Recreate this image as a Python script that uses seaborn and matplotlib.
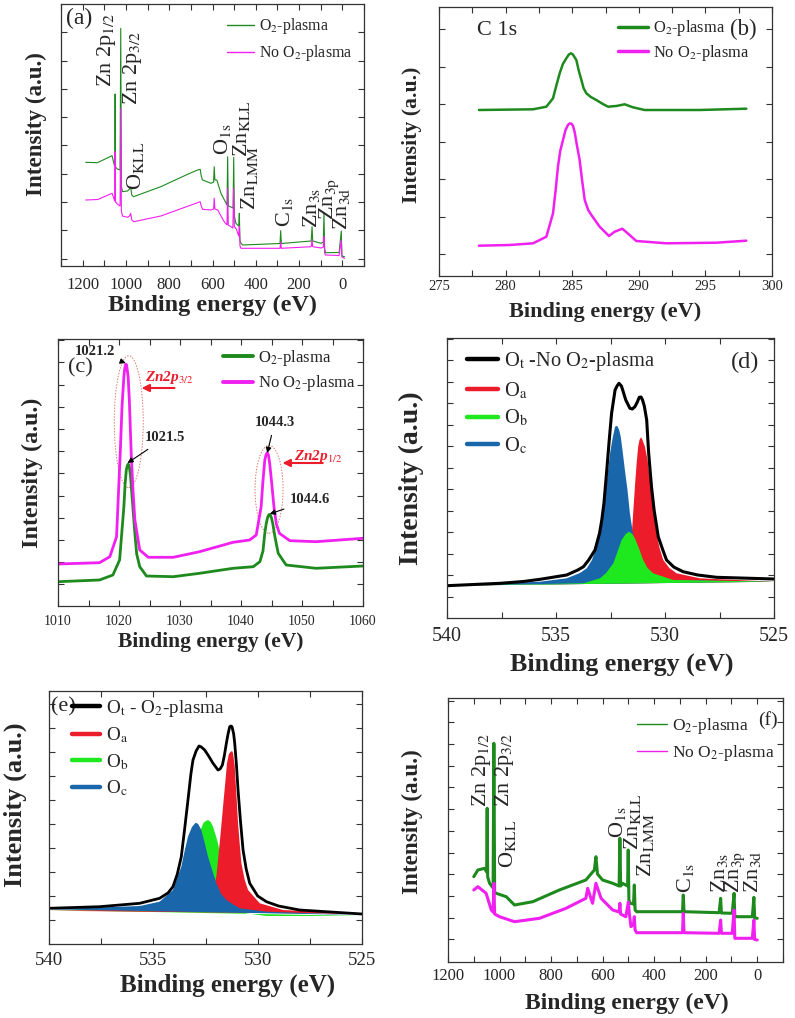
import numpy as np
import matplotlib
matplotlib.use("Agg")
import matplotlib.pyplot as plt
import seaborn as sns
from matplotlib.ticker import MultipleLocator, FormatStrFormatter
from matplotlib.patches import Ellipse
from matplotlib.lines import Line2D

# ------------------------------
# Data (intensities in arbitrary units)
# ------------------------------
# (a) survey spectrum
a_green_ev = [1186, 1132, 1064, 1056, 1052, 1050, 1048, 1040, 1027, 1024, 1021, 1016, 993, 983, 978, 973,
              965, 839, 715, 669, 657, 652, 646, 607, 595, 592, 589, 580, 561, 533, 530, 527, 518, 505,
              502, 499, 492, 479, 476, 473, 468, 461, 288, 285, 282, 144, 140, 137, 98, 88, 85, 82, 78,
              15, 5, 2, -10]
a_green_int = [103.7, 103.3, 110.3, 102.7, 100, 172, 99, 97, 96, 237.7, 80, 74.3, 75, 77, 79, 71,
               69.3, 79.3, 91.7, 96, 96.7, 90, 86, 82.7, 84, 99.3, 86, 86, 72.7, 61, 109.3, 60, 59.3, 58,
               108.7, 50, 42.7, 40, 52.7, 25, 22.7, 21, 22.5, 35.3, 22.5, 25, 39.3, 25, 22.7, 24, 53.3, 18, 13.3,
               13.5, 35, 10, 9.3]
a_mag_ev = [1186, 1130, 1064, 1056, 1052, 1050, 1048, 1040, 1027, 1024, 1021, 1016, 993, 983, 978, 973,
            963, 839, 669, 657, 652, 646, 607, 595, 592, 589, 576, 546, 533, 530, 527, 506, 502, 499,
            490, 479, 476, 473, 468, 288, 285, 282, 144, 140, 137, 98, 88, 85, 82, 78, 15, 5, 2, -10]
a_mag_int = [66, 66.5, 72.7, 67.7, 65, 114.3, 64, 62, 60, 157.7, 55, 50, 48.7, 50, 52.7, 46,
             44.3, 50, 63.3, 64.3, 60, 56.7, 56, 57, 67.7, 57, 56, 44.3, 41, 77.7, 41, 38, 78, 39.3,
             37, 30, 40, 20, 17.7, 17.7, 24, 17.7, 19.3, 26, 19.3, 18, 19, 29.3, 13, 11, 10.5, 26, 9, 7.7]

# (b) C 1s
b_green_ev = [278.0, 282.06, 283.06, 283.56, 283.8, 284.06, 284.3, 284.56, 284.75, 284.9, 285.05, 285.31,
              285.5, 285.69, 285.85, 286.06, 286.4, 286.81, 287.3, 287.69, 288.31, 288.94, 289.56, 290.44,
              294.57, 298.07]
b_green_int = [166, 166.7, 169.3, 177.7, 190, 202.7, 212, 217.7, 221.5, 222.7, 221.5, 216,
               205, 196, 188, 182.7, 179, 176, 172, 169.3, 170, 171.7, 168.7, 166,
               166, 167.3]
b_mag_ev = [278.0, 280.3, 282.06, 283.06, 283.56, 283.75, 283.93, 284.1, 284.31, 284.5, 284.68, 284.8,
            284.92, 285.05, 285.18, 285.35, 285.56, 285.75, 285.94, 286.2, 286.44, 287.06, 287.76, 288.19,
            288.76, 289.31, 289.81, 292.07, 295.82, 298.07]
b_mag_int = [30.3, 31, 32.7, 39.3, 62.7, 85, 109.3, 125, 136, 146, 151, 152.5,
             152.5, 150.5, 144.3, 131, 116, 95, 76, 66, 61, 49.3, 40, 44.3,
             47.3, 41, 35, 32.7, 33.3, 35.3]

# (c) Zn 2p
c_mag_ev = [1010, 1016.8, 1018.5, 1019.6, 1020.2, 1020.5, 1020.8, 1020.95, 1021.1, 1021.25, 1021.5, 1021.7,
            1022.0, 1022.3, 1022.6, 1023.4, 1024.8, 1028.9, 1033.2, 1038.7, 1041.4, 1042.5, 1043.3, 1043.6,
            1043.9, 1044.1, 1044.3, 1044.5, 1044.7, 1045.0, 1045.4, 1045.8, 1046.3, 1048.0, 1052.3, 1060]
c_mag_int = [42, 43.3, 49.3, 69.3, 152.7, 200, 229.3, 238, 242, 241, 229.3, 205,
             152.7, 115, 86, 56, 48.7, 48.7, 54.3, 63.7, 66, 71, 99.3, 125,
             146, 151, 153.3, 151, 142.7, 125, 99.3, 82, 72.7, 65.3, 64.3, 67.7]
c_green_ev = [1010, 1016.8, 1019.0, 1020.1, 1020.8, 1021.0, 1021.2, 1021.35, 1021.5, 1021.7, 1021.9, 1022.2,
              1022.6, 1022.9, 1023.4, 1024.5, 1028.9, 1033.2, 1038.7, 1042.0, 1043.1, 1043.6, 1043.9, 1044.15,
              1044.4, 1044.6, 1044.8, 1045.0, 1045.2, 1045.6, 1046.1, 1047.4, 1052.3, 1060]
c_green_int = [24.3, 26, 31, 46, 99.3, 122, 136, 140, 142, 139, 129.3, 105,
               72.7, 52, 39.3, 30, 29.3, 32.7, 37.7, 39.3, 44.3, 55, 72.7, 83,
               89.3, 91.5, 91, 88, 82.7, 68, 52.7, 41, 37.7, 40]
c_peak_labels = ["1021.2", "1021.5", "1044.3", "1044.6"]

# (d) O 1s, no O2-plasma
d_ot_ev = [540, 537.56, 536.5, 535.73, 534.51, 534.0, 533.74, 533.5, 533.21, 533.0, 532.9, 532.8, 532.67,
           532.55, 532.45, 532.29, 532.2, 532.11, 532.0, 531.94, 531.8, 531.61, 531.5, 531.38, 531.27,
           531.18, 531.1, 531.03, 530.95, 530.84, 530.75, 530.62, 530.5, 530.31, 530.1, 529.93, 529.6,
           529.17, 528.5, 527.64, 525]
d_ot_int = [32.3, 34.7, 36.5, 38.7, 43, 48, 51.3, 58, 68, 85, 98, 115, 148,
            180, 204.7, 228, 232, 234.7, 232, 228, 218, 209.7, 209, 211.3, 216,
            220.7, 221, 218, 212, 198, 165, 131.3, 108, 81.3, 68, 58, 51,
            46.3, 43, 40.7, 39]
d_oc_ev = [540, 535.73, 534.51, 533.9, 533.59, 533.35, 533.13, 532.95, 532.83, 532.65, 532.52, 532.4,
           532.29, 532.22, 532.19, 532.1, 532.03, 531.95, 531.84, 531.72, 531.61, 531.45, 531.30, 531.1,
           530.84, 529.93, 525]
d_oc_int = [32.3, 36.3, 39.7, 45, 49.7, 58, 71.3, 95, 114.7, 140, 164.7, 180,
            191.3, 192, 192, 188, 181.3, 168, 148, 128, 104.7, 82, 64.7, 54,
            44.7, 38, 36.3]
d_ob_ev = [540, 533.74, 532.98, 532.7, 532.37, 532.15, 531.99, 531.8, 531.65, 531.5, 531.38, 531.2,
           531.0, 530.8, 530.54, 529.62, 525]
d_ob_int = [32.3, 34.7, 39.7, 45, 54.7, 68, 78, 84, 86.3, 84, 79.7, 70,
            58, 50, 44.7, 38, 36.3]
d_oa_ev = [540, 532.98, 531.76, 531.65, 531.53, 531.45, 531.38, 531.3, 531.23, 531.17, 531.10, 531.05,
           530.92, 530.8, 530.69, 530.55, 530.39, 530.25, 530.08, 529.8, 529.47, 528.40, 525]
d_oa_int = [32.3, 34.7, 41.3, 60, 81.3, 108, 131.3, 155, 171.3, 178, 180.7, 179,
            171.3, 158, 138, 112, 84.7, 70, 58, 50, 44.7, 39.7, 36.3]

# (e) O 1s, O2-plasma
e_ot_ev = [540, 537.57, 535.65, 534.70, 534.3, 534.06, 533.85, 533.66, 533.5, 533.34, 533.2, 533.10,
           532.95, 532.81, 532.7, 532.54, 532.35, 532.14, 531.90, 531.8, 531.69, 531.6, 531.50, 531.42,
           531.34, 531.28, 531.23, 531.15, 531.10, 531.02, 530.94, 530.82, 530.70, 530.55, 530.38, 530.0,
           529.58, 529.0, 527.99, 525]
e_ot_int = [35.7, 37.3, 40.7, 45.7, 51, 57.3, 70, 87.3, 115, 144, 170, 184,
            193, 198, 197, 194, 188, 180.7, 174, 175, 179, 188, 200.7, 210,
            217.3, 218, 217.3, 210, 200.7, 180, 154, 122, 94, 75, 60.7, 48,
            42.3, 38, 34, 30]
e_oc_ev = [540, 535.65, 534.70, 534.06, 533.66, 533.5, 533.34, 533.15, 532.97, 532.85, 532.70, 532.55,
           532.38, 532.15, 531.98, 531.75, 531.50, 531.2, 530.86, 529.58, 525]
e_oc_int = [34.7, 38, 42.3, 54, 77.3, 93, 107.3, 117, 121.3, 120, 114, 102,
            87.3, 72, 60.7, 50, 44, 40, 35.7, 32.3, 29]
e_ob_ev = [540, 533.74, 533.10, 532.95, 532.78, 532.7, 532.59, 532.48, 532.38, 532.25, 532.14, 532.0,
           531.90, 531.75, 531.58, 531.4, 531.18, 530.54, 529.58, 525]
e_ob_int = [34, 35.7, 60.7, 85, 107.3, 116, 121.3, 123, 124, 122, 117.3, 108,
            100.7, 85, 67.3, 55, 44, 30.7, 28, 28]
e_oa_ev = [540, 533.10, 532.30, 531.98, 531.79, 531.63, 531.55, 531.47, 531.38, 531.29, 531.22, 531.18,
           531.1, 531.05, 530.94, 530.86, 530.78, 530.62, 530.46, 529.90, 528.79, 525]
e_oa_int = [33.3, 34.7, 40.7, 67.3, 107.3, 144, 162, 180.7, 190, 192.3, 193, 190.7,
            178, 160.7, 120.7, 100, 80.7, 64, 54, 40.7, 34, 30]

# (f) survey spectrum
f_green_ev = [1100, 1084, 1058, 1050, 1048, 1046, 1038.7, 1025, 1022, 1019, 1013, 974, 942, 871, 768, 665,
              632, 626, 620, 600, 561, 536, 533, 530, 523, 503, 500.6, 498, 493, 480, 477, 474, 468,
              290, 287, 284, 148, 142, 139, 97, 90, 87, 84, 19, 13, 10, 0]
f_green_int = [85.3, 92, 93.7, 90, 153.7, 85, 78.7, 74, 218.7, 70, 68.7, 65.3, 57, 60.3, 72, 82,
               92, 105.3, 88, 82, 78.7, 76, 123.7, 76, 78.7, 76, 112, 62, 58.7, 58, 77, 52, 50.3,
               50.3, 67, 50.3, 49.3, 63.7, 49, 48.7, 68.7, 45.3, 45.3, 45.3, 64.7, 44, 43.7]
f_mag_ev = [1100, 1084, 1052, 1032, 1025, 1022, 1019, 1000, 942, 845, 742, 665, 658, 639, 626, 606,
            561, 536, 533, 530, 510, 500, 497, 490, 480, 477, 474, 468, 290, 287, 284, 148, 142, 139,
            97, 90, 87, 19, 13, 10, 0]
f_mag_int = [72, 75.3, 68.7, 52, 50, 78.7, 48, 45.3, 40.3, 43.7, 53.7, 63.7, 73.7, 58.7, 78.7, 63.7,
             52, 50, 58.7, 48, 45.3, 60, 50, 35.3, 38, 45.3, 32, 29.3, 29.3, 48.7, 29.3, 28.7, 42, 28.7,
             28.7, 52, 23.7, 23.7, 42, 22.5, 22]

survey_labels = ["Zn 2p$_{1/2}$", "Zn 2p$_{3/2}$", r"O$_{\mathrm{KLL}}$", r"O$_{\mathrm{1s}}$",
                 r"Zn$_{\mathrm{KLL}}$", r"Zn$_{\mathrm{LMM}}$", r"C$_{\mathrm{1s}}$",
                 r"Zn$_{\mathrm{3s}}$", r"Zn$_{\mathrm{3p}}$", r"Zn$_{\mathrm{3d}}$"]

# ------------------------------
# Style
# ------------------------------
sns.set_style("ticks")
plt.rcParams['font.family'] = ['Liberation Serif', 'DejaVu Serif']
plt.rcParams['mathtext.fontset'] = 'stix'

GREEN = '#1e8a1e'
MAGENTA = '#f020f0'
RED = '#ec1c2a'
LIME = '#1ee81e'
BLUE = '#1a66aa'
W, H = 795, 1018


def make_axes(fig, left, right, top, bottom):
    return fig.add_axes([left / W, 1 - bottom / H, (right - left) / W, (bottom - top) / H])


def setup(ax, xlim, ylim, xmaj, xmin, y0, ystep, lsize, pad):
    ax.set_xlim(*xlim)
    ax.set_ylim(*ylim)
    ax.xaxis.set_major_locator(MultipleLocator(xmaj))
    ax.xaxis.set_minor_locator(MultipleLocator(xmin))
    ax.xaxis.set_major_formatter(FormatStrFormatter('%d'))
    ax.set_yticks(np.arange(y0, ylim[1], ystep))
    ax.set_yticklabels([])
    ax.tick_params(which='both', direction='in', top=True, right=True, width=0.8, color='#333333')
    ax.tick_params(which='major', length=4, labelsize=lsize, pad=pad)
    ax.tick_params(which='minor', length=4)
    for s in ax.spines.values():
        s.set_linewidth(0.9)
        s.set_color('#333333')


def labels(ax, xs, xpos, ys, ypos):
    ax.set_xlabel("Binding energy (eV)", fontsize=xs, fontweight='bold')
    ax.xaxis.set_label_coords(*xpos)
    ax.set_ylabel("Intensity (a.u.)", fontsize=ys, fontweight='bold')
    ax.yaxis.set_label_coords(*ypos)


def legend(ax, handles, texts, x, y, fs, hl, ls):
    ax.legend(handles, texts, loc='upper left', bbox_to_anchor=(x, y), frameon=False, fontsize=fs,
              handlelength=hl, handletextpad=0.3, labelspacing=ls, borderpad=0, borderaxespad=0)


def line(ax, x, y, color, lw):
    sns.lineplot(x=x, y=y, ax=ax, color=color, lw=lw, estimator=None, sort=False, legend=False)


fig = plt.figure(figsize=(W / 100, H / 100), dpi=100)

# ------------------------------
# (a) survey
# ------------------------------
ax = make_axes(fig, 61, 364, 4, 266)
line(ax, a_green_ev, a_green_int, GREEN, 0.8)
line(ax, a_mag_ev, a_mag_int, MAGENTA, 0.8)
setup(ax, (1300, -100), (0, 262), 200, 100, 7.3, 28.3, 12, 8)
labels(ax, 17.5, (0.5, -0.111), 16.6, (-0.046, 0.54))
legend(ax, [Line2D([], [], color=GREEN, lw=1), Line2D([], [], color=MAGENTA, lw=1)],
       ["O$_2$-plasma", "No O$_2$-plasma"], 0.548, 0.954, 11.4, 1.7, 0.46)
ax.text(0.061, 0.943, "(a)", transform=ax.transAxes, fontsize=17, ha='center', va='center')
a_pos = [(1089, 179), (971, 161), (955, 76), (553, 111), (468, 109), (431, 56), (269, 39),
         (144, 38), (61, 46), (5, 36)]
for txt, (px, py) in zip(survey_labels, a_pos):
    ax.text(px, py, txt, rotation=90, ha='center', va='bottom', fontsize=16)

# ------------------------------
# (b) C 1s
# ------------------------------
ax = make_axes(fig, 439, 772, 7, 276)
line(ax, b_green_ev, b_green_int, GREEN, 1.8)
line(ax, b_mag_ev, b_mag_int, MAGENTA, 1.8)
setup(ax, (275, 300), (0, 269), 5, 2.5, 22, 37.5, 10.5, 3)
labels(ax, 16, (0.5, -0.096), 15.7, (-0.051, 0.524))
legend(ax, [Line2D([], [], color=GREEN, lw=2.5), Line2D([], [], color=MAGENTA, lw=2.5)],
       ["O$_2$-plasma", "No O$_2$-plasma"], 0.538, 0.958, 11.8, 1.83, 0.29)
ax.text(0.913, 0.918, "(b)", transform=ax.transAxes, fontsize=16.5, ha='center', va='center')
ax.text(0.174, 0.914, "C 1s", transform=ax.transAxes, fontsize=16, ha='center', va='center')

# ------------------------------
# (c) Zn 2p
# ------------------------------
ax = make_axes(fig, 58, 363, 339, 606)
line(ax, c_green_ev, c_green_int, GREEN, 2.0)
line(ax, c_mag_ev, c_mag_int, MAGENTA, 2.0)
setup(ax, (1010, 1060), (0, 267), 10, 5, 21.7, 22.2, 10, 6.5)
labels(ax, 15.5, (0.5, -0.096), 17.3, (-0.049, 0.50))
legend(ax, [Line2D([], [], color=GREEN, lw=2.8), Line2D([], [], color=MAGENTA, lw=2.8)],
       ["O$_2$-plasma", "No O$_2$-plasma"], 0.541, 0.966, 12, 1.8, 0.32)
ax.text(0.072, 0.891, "(c)", transform=ax.transAxes, fontsize=16, ha='center', va='center')
c_text = [(1016.0, 254), (1027.5, 168), (1045.5, 183), (1051.3, 106)]
c_tip = [(1021.1, 243), (1021.4, 143), (1044.3, 153), (1044.7, 92)]
for txt, tp, tip in zip(c_peak_labels, c_text, c_tip):
    ax.annotate(txt, xy=tip, xytext=tp, ha='center', va='center', fontsize=10.5, fontweight='bold',
                arrowprops=dict(arrowstyle='-|>', color='k', lw=0.8, mutation_scale=8,
                                shrinkA=2, shrinkB=0))
ax.text(1028.3, 228, r"Zn2p$_{\mathit{3/2}}$", color=RED, fontsize=11, fontweight='bold',
        fontstyle='italic', ha='center', va='center')
ax.text(1052.7, 149, r"Zn2p$_{\mathit{1/2}}$", color=RED, fontsize=11, fontweight='bold',
        fontstyle='italic', ha='center', va='center')
ax.annotate('', xy=(1023.7, 218), xytext=(1029.1, 218),
            arrowprops=dict(arrowstyle='-|>', color=RED, lw=1.5, mutation_scale=11, shrinkA=0, shrinkB=0))
ax.annotate('', xy=(1046.8, 143), xytext=(1053.4, 143),
            arrowprops=dict(arrowstyle='-|>', color=RED, lw=1.5, mutation_scale=11, shrinkA=0, shrinkB=0))
ax.add_patch(Ellipse((1021.6, 184.3), 4.75, 132, fill=False, ec='#e07a70', lw=0.7, ls=(0, (1.5, 1.5))))
ax.add_patch(Ellipse((1044.6, 116.7), 4.6, 88, fill=False, ec='#e07a70', lw=0.7, ls=(0, (1.5, 1.5))))

# ------------------------------
# (d) O 1s no plasma
# ------------------------------
ax = make_axes(fig, 447, 774, 338, 618)
ax.fill(d_oa_ev, d_oa_int, color=RED, lw=0)
ax.fill(d_oc_ev, d_oc_int, color=BLUE, lw=0)
ax.fill(d_ob_ev, d_ob_int, color=LIME, lw=0)
line(ax, d_ot_ev, d_ot_int, 'black', 2.2)
setup(ax, (540, 525), (0, 280), 5, 2.5, 21.3, 21.5, 14.4, 6.5)
labels(ax, 18.7, (0.534, -0.125), 20, (-0.070, 0.50))
legend(ax, [Line2D([], [], color=c, lw=3.2) for c in ['black', RED, LIME, BLUE]],
       ["O$_\\mathrm{t}$ -No O$_2$-plasma", "O$_\\mathrm{a}$", "O$_\\mathrm{b}$", "O$_\\mathrm{c}$"],
       0.061, 0.957, 14.7, 1.5, 0.35)
ax.text(0.911, 0.911, "(d)", transform=ax.transAxes, fontsize=17.5, ha='center', va='center')

# ------------------------------
# (e) O 1s with plasma
# ------------------------------
ax = make_axes(fig, 49, 362, 691, 944)
ax.fill(e_ob_ev, e_ob_int, color=LIME, lw=0)
ax.fill(e_oa_ev, e_oa_int, color=RED, lw=0)
ax.fill(e_oc_ev, e_oc_int, color=BLUE, lw=0)
line(ax, e_ot_ev, e_ot_int, 'black', 2.0)
setup(ax, (540, 525), (0, 253), 5, 2.5, 24, 24, 13.6, 6)
labels(ax, 18, (0.57, -0.115), 19, (-0.070, 0.55))
legend(ax, [Line2D([], [], color=c, lw=3.2) for c in ['black', RED, LIME, BLUE]],
       ["O$_\\mathrm{t}$ - O$_2$-plasma", "O$_\\mathrm{a}$", "O$_\\mathrm{b}$", "O$_\\mathrm{c}$"],
       0.073, 0.974, 13.8, 1.46, 0.36)
ax.text(0.045, 0.937, "(e)", transform=ax.transAxes, fontsize=16, ha='center', va='center')

# ------------------------------
# (f) survey
# ------------------------------
ax = make_axes(fig, 448, 783, 698, 962)
line(ax, f_green_ev, f_green_int, GREEN, 2.2)
line(ax, f_mag_ev, f_mag_int, MAGENTA, 2.2)
setup(ax, (1200, -100), (0, 264), 200, 100, 22.7, 21.7, 12, 4.5)
labels(ax, 17, (0.533, -0.117), 16.7, (-0.075, 0.53))
legend(ax, [Line2D([], [], color=GREEN, lw=1), Line2D([], [], color=MAGENTA, lw=1)],
       ["O$_2$-plasma", "No O$_2$-plasma"], 0.564, 0.93, 12.6, 1.7, 0.36)
ax.text(0.955, 0.917, "(f)", transform=ax.transAxes, fontsize=14, ha='center', va='center')
f_pos = [(1071, 155), (981, 155), (968, 94), (542, 124), (484, 112), (432, 85), (277, 69),
         (148, 69), (84, 69), (17, 69)]
for txt, (px, py) in zip(survey_labels, f_pos):
    ax.text(px, py, txt, rotation=90, ha='center', va='bottom', fontsize=16)

fig.savefig("out.png", dpi=100, facecolor='white')
